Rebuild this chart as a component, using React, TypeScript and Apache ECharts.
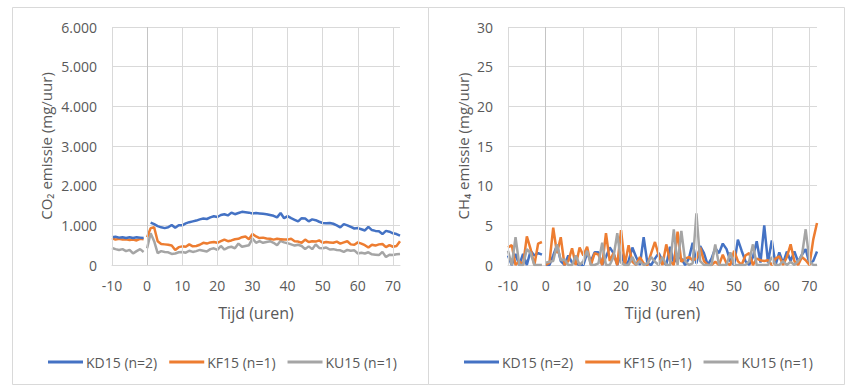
import React, { useEffect, useRef } from "react";
import * as echarts from "echarts";

const seriesNames = ["KD15 (n=2)", "KF15 (n=1)", "KU15 (n=1)"];
const colors = ["#4472C4", "#ED7D31", "#A5A5A5"];

const hoursPre = [-10, -9, -8, -7, -6, -5, -4, -3, -2, -1];
const hoursPost = [
  0, 1, 2, 3, 4, 5, 6, 7, 8, 9, 10, 11, 12, 13, 14, 15, 16, 17, 18, 19, 20, 21, 22, 23, 24,
  25, 26, 27, 28, 29, 30, 31, 32, 33, 34, 35, 36, 37, 38, 39, 40, 41, 42, 43, 44, 45, 46, 47,
  48, 49, 50, 51, 52, 53, 54, 55, 56, 57, 58, 59, 60, 61, 62, 63, 64, 65, 66, 67, 68, 69, 70,
  71, 72,
];
const xTicks = [-10, 0, 10, 20, 30, 40, 50, 60, 70];

// CO2 (mg/uur)
const co2KDPre = [700, 710, 690, 700, 680, 700, 680, 700, 690, 680];
const co2KFPre = [680, 640, 660, 640, 650, 630, 640, 620, 660, 650];
const co2KUPre = [430, 400, 380, 400, 350, 380, 290, 350, 400, 330];
const co2KDPost = [
  null, 1070, 1030, 980, 950, 930, 950, 1010, 940, 1000, 1000, 1050, 1080, 1100, 1120, 1150,
  1170, 1160, 1200, 1230, 1210, 1260, 1280, 1250, 1320, 1280, 1310, 1340, 1330, 1320, 1300,
  1310, 1300, 1290, 1280, 1260, 1240, 1200, 1310, 1180, 1230, 1180, 1140, 1100, 1180, 1170,
  1100, 1150, 1130, 1090, 1060, 1050, 1060, 1040, 1000, 950, 1030, 1000, 960, 920, 930, 900,
  870, 960, 880, 860, 850, 780, 860, 840, 800, 780, 740,
];
const co2KFPost = [
  700, 930, 950, 600, 530, 520, 510, 490, 380, 450, 470, 460, 520, 470, 480, 510, 560, 540,
  570, 580, 560, 600, 640, 600, 620, 650, 660, 700, 720, 650, 780, 720, 680, 690, 670, 660,
  640, 660, 650, 640, 640, 660, 600, 590, 560, 640, 580, 600, 590, 620, 560, 580, 570, 560,
  590, 540, 570, 600, 520, 510, 570, 540, 500, 440, 510, 490, 520, 530, 450, 500, 460, 480,
  600,
];
const co2KUPost = [
  420, 800, 600, 300, 350, 330, 320, 280, 290, 320, 330, 310, 360, 330, 350, 380, 360, 340,
  400, 420, 380, 480, 390, 440, 460, 420, 540, 460, 480, 500, 670, 560, 600, 560, 580, 600,
  560, 500, 610, 570, 550, 520, 490, 510, 480, 400, 470, 400, 520, 430, 420, 440, 390, 400,
  380, 370, 330, 380, 360, 370, 290, 310, 290, 320, 270, 260, 250, 330, 200, 260, 250, 270,
  280,
];

// CH4 (mg/uur)
const ch4KDPre = [1.2, 0, 1.4, 0, 1.4, 0, 1.8, 1.2, 1.5, 1.3];
const ch4KFPre = [2.2, 2.5, 0, 0.5, 0, 3.6, 2.0, 0, 2.7, 2.9];
const ch4KUPre = [1.8, 0, 3.5, 0, 0, 2.0, 1.5, 0, 0, 0];
const ch4KDPost = [
  0, 0, 1.2, 2.5, 0.5, 0, 1.2, 0.3, 0.2, 0, 0, 1.5, 0.5, 1.6, 1.6, 0, 1.0, 2.2, 1.5, 0, 1.5, 0,
  0.5, 2.2, 1.0, 0, 3.5, 0.2, 0, 0.8, 1.5, 0.5, 0, 2.3, 0.3, 1.0, 0.8, 0, 0.8, 2.8, 0.2, 2.4,
  1.5, 0, 0.8, 2.1, 1.5, 2.7, 2.0, 0.5, 0, 3.2, 1.8, 0.5, 0, 1.0, 3.0, 0.3, 5.0, 0.3, 3.1, 0,
  1.6, 0.2, 1.7, 0.5, 1.7, 0.4, 1.3, 2.0, 0.2, 0.5, 1.7,
];
const ch4KFPost = [
  0, 0.3, 4.7, 1.5, 3.5, 0, 0.5, 2.1, 0, 2.2, 1.2, 2.3, 0, 1.5, 1.3, 0, 4.0, 0.5, 1.5, 0, 4.4,
  0, 2.5, 0.4, 0, 1.0, 0.2, 0, 1.5, 2.9, 1.2, 0, 2.6, 0.5, 0, 4.2, 0.4, 0.8, 1.0, 0.6, 0.8,
  2.2, 0.5, 0, 0, 0.4, 0, 1.3, 0.2, 0, 1.8, 0.5, 0, 1.2, 1.5, 0, 0.8, 0.6, 0.5, 0.6, 0, 0.8,
  1.1, 0, 1.0, 2.6, 0.5, 0, 1.0, 0.6, 0, 3.2, 5.3,
];
const ch4KUPost = [
  0.3, 0.4, 0.5, 2.6, 0.6, 0.7, 0, 0, 1.2, 0, 0.5, 1.8, 0, 0, 0.2, 2.8, 0, 0, 1.0, 4.0, 0.3,
  0, 0, 1.0, 0, 0.5, 0, 0.2, 1.0, 0.4, 0, 1.0, 0, 0, 4.5, 0, 4.3, 0.5, 0, 0.2, 6.5, 0.5, 0,
  0, 0, 2.6, 0, 0, 0, 1.6, 0, 0, 0, 0, 0.5, 2.6, 0, 0, 0, 0, 1.0, 0, 0, 0.5, 0, 0.4, 0, 0.5,
  1.2, 4.5, 0.5, 0, 0,
];

const FONT = "'Open Sans', sans-serif";
const TXT = "#595959";
const GRID = "#d9d9d9";

function pairs(xs: number[], ys: (number | null)[]) {
  return xs.map((x, i) => [x, ys[i] == null ? "-" : ys[i]]);
}

export default function App() {
  const ref = useRef<HTMLDivElement>(null);
  useEffect(() => {
    if (!ref.current) return;
    const chart = echarts.init(ref.current, null, { renderer: "svg" });

    const grids = [
      { left: 112, top: 27, width: 288, height: 238 },
      { left: 508, top: 27, width: 309, height: 238 },
    ];

    const xAxis = [0, 1].map((g) => ({
      type: "value",
      gridIndex: g,
      min: -10,
      max: 72,
      interval: 10,
      name: "Tijd (uren)",
      nameLocation: "middle",
      nameGap: 40,
      nameTextStyle: { color: TXT, fontSize: 16, fontFamily: FONT },
      axisLine: { show: true, lineStyle: { color: GRID, width: 1 } },
      axisTick: { show: false },
      splitLine: { show: false },
      axisLabel: {
        color: TXT,
        fontSize: 14,
        fontFamily: FONT,
        margin: 13,
        showMaxLabel: false,
        formatter: (v: number) => (v % 10 === 0 ? String(v) : ""),
      },
    }));

    const yAxis = [
      {
        type: "value",
        gridIndex: 0,
        min: 0,
        max: 6000,
        interval: 1000,
        name: "CO₂ emissie (mg/uur)",
        nameLocation: "middle",
        nameGap: 59,
        nameTextStyle: { color: TXT, fontSize: 15, fontFamily: FONT },
        axisLine: { show: false },
        axisTick: { show: false },
        splitLine: { lineStyle: { color: GRID, width: 1 } },
        axisLabel: {
          color: TXT,
          fontSize: 14,
          fontFamily: FONT,
          margin: 15,
          formatter: (v: number) => (v === 0 ? "0" : `${v / 1000}.000`),
        },
      },
      {
        type: "value",
        gridIndex: 1,
        min: 0,
        max: 30,
        interval: 5,
        name: "CH₄ emissie (mg/uur)",
        nameLocation: "middle",
        nameGap: 38,
        nameTextStyle: { color: TXT, fontSize: 15, fontFamily: FONT },
        axisLine: { show: false },
        axisTick: { show: false },
        splitLine: { lineStyle: { color: GRID, width: 1 } },
        axisLabel: { color: TXT, fontSize: 14, fontFamily: FONT, margin: 15 },
      },
    ];

    const vLines = (g: number) => ({
      type: "line",
      xAxisIndex: g,
      yAxisIndex: g,
      data: [],
      silent: true,
      markLine: {
        silent: true,
        symbol: "none",
        label: { show: false },
        data: xTicks.map((v) => ({
          xAxis: v,
          lineStyle: { color: v === 0 ? "#c4c4c4" : GRID, width: 1, type: "solid" },
        })),
      },
    });

    const mk = (g: number, idx: number, xs: number[], ys: (number | null)[]) => ({
      type: "line",
      name: seriesNames[idx],
      xAxisIndex: g,
      yAxisIndex: g,
      data: pairs(xs, ys),
      showSymbol: false,
      symbol: "none",
      connectNulls: false,
      lineStyle: { color: colors[idx], width: 2.5 },
      itemStyle: { color: colors[idx] },
      z: 3,
    });

    const series: any[] = [
      vLines(0),
      vLines(1),
      mk(0, 2, hoursPre, co2KUPre),
      mk(0, 2, hoursPost, co2KUPost),
      mk(0, 1, hoursPre, co2KFPre),
      mk(0, 1, hoursPost, co2KFPost),
      mk(0, 0, hoursPre, co2KDPre),
      mk(0, 0, hoursPost, co2KDPost),
      mk(1, 0, hoursPre, ch4KDPre),
      mk(1, 0, hoursPost, ch4KDPost),
      mk(1, 1, hoursPre, ch4KFPre),
      mk(1, 1, hoursPost, ch4KFPost),
      mk(1, 2, hoursPre, ch4KUPre),
      mk(1, 2, hoursPost, ch4KUPost),
    ];

    const legendBase = {
      data: seriesNames,
      icon: "rect",
      itemWidth: 35,
      itemHeight: 3,
      itemGap: 12,
      top: 350,
      textStyle: { color: TXT, fontSize: 14, fontFamily: FONT, padding: [0, 0, 0, -2] },
      selectedMode: false,
    };

    chart.setOption({
      animation: false,
      backgroundColor: "#ffffff",
      grid: grids,
      xAxis,
      yAxis,
      legend: [
        { ...legendBase, left: 43 },
        { ...legendBase, left: 459 },
      ],
      graphic: [
        {
          type: "rect",
          shape: { x: 12.5, y: 7.5, width: 416, height: 377 },
          style: { fill: "none", stroke: GRID, lineWidth: 1 },
          silent: true,
        },
        {
          type: "rect",
          shape: { x: 428.5, y: 7.5, width: 416, height: 377 },
          style: { fill: "none", stroke: GRID, lineWidth: 1 },
          silent: true,
        },
      ],
      series,
    });
    return () => chart.dispose();
  }, []);

  return (
    <div
      ref={ref}
      style={{ position: "absolute", left: 0, top: 0, width: 853, height: 390, background: "#fff" }}
    />
  );
}
